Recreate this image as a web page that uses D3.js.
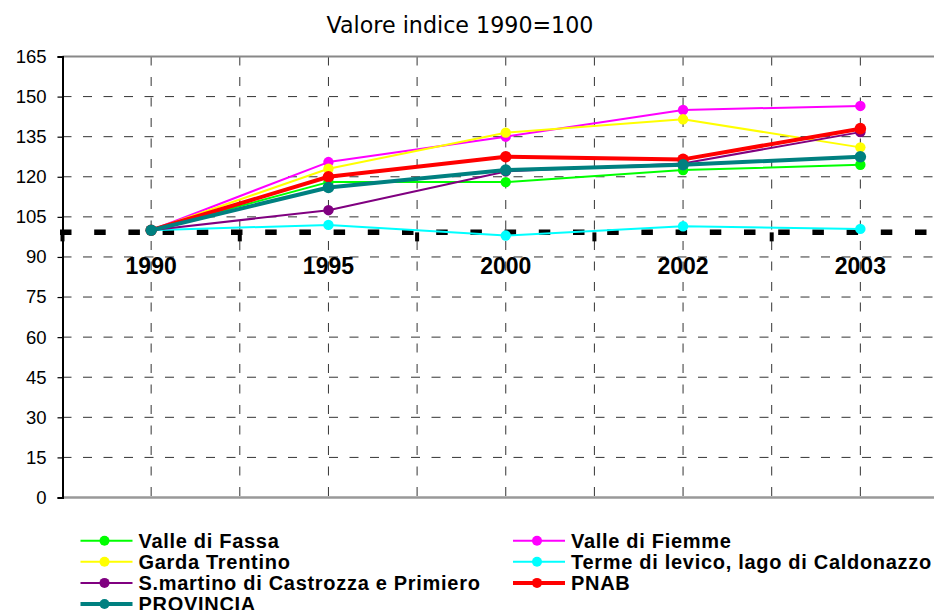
<!DOCTYPE html>
<html>
<head>
<meta charset="utf-8">
<script src="https://cdn.jsdelivr.net/npm/d3@7"></script>
<style>
  body { margin: 0; background: #fff; }
  svg { display: block; }
</style>
</head>
<body>
<script>
// data
let years = ['1990', '1995', '2000', '2002', '2003']
let yTicks = [0, 15, 30, 45, 60, 75, 90, 105, 120, 135, 150, 165]

let valleDiFassa = [100, 118, 118, 122.5, 124.5]
let valleDiFiemme = [100, 125.5, 135, 145, 146.5]
let gardaTrentino = [100, 123, 136.5, 141.5, 131]
let termeDiLevico = [100, 102, 98, 101.5, 100.5]
let sMartino = [100, 107.5, 122, 125, 136.7]
let pnab = [100, 120, 127.5, 126.5, 138]
let provincia = [100, 116, 122.5, 124.5, 127.5]

let seriesNames = ['Valle di Fassa', 'Valle di Fiemme', 'Garda Trentino',
  'Terme di levico, lago di Caldonazzo', 'S.martino di Castrozza e Primiero', 'PNAB', 'PROVINCIA']
let seriesValues = [valleDiFassa, valleDiFiemme, gardaTrentino, termeDiLevico, sMartino, pnab, provincia]
let seriesColors = ['#00ff00', '#ff00ff', '#ffff00', '#00ffff', '#800080', '#ff0000', '#008080']
let thick = [false, false, false, false, false, true, true]

let axisCross = 99.2

let width = 934
let height = 610
let plotLeft = 62.5
let plotRight = 949
let plotTop = 56.5
let plotBottom = 497.5

let svg = d3.select('body').append('svg')
  .attr('width', width)
  .attr('height', height)

let xScale = d3.scaleBand().domain(years).range([plotLeft, plotRight]).padding(0)
let bw = xScale.bandwidth()
let cx = (d) => xScale(d) + bw / 2
let yScale = d3.scaleLinear().domain([0, 165]).range([plotBottom, plotTop])

// title
svg.append('text')
  .attr('x', 460)
  .attr('y', 33)
  .attr('text-anchor', 'middle')
  .style('font-family', '"DejaVu Sans", Verdana, sans-serif')
  .style('font-size', '22.2px')
  .text('Valore indice 1990=100')

// horizontal grid
svg.append('g')
  .selectAll('line')
  .data(yTicks.filter(d => d > 0 && d < 165))
  .enter()
  .append('line')
  .attr('x1', plotLeft)
  .attr('x2', plotRight)
  .attr('y1', d => yScale(d))
  .attr('y2', d => yScale(d))
  .attr('stroke', '#333')
  .attr('stroke-width', 1)
  .attr('stroke-dasharray', '9,11.5')

// vertical grid: band edges and centres
let vx = []
years.forEach((y, i) => {
  if (i > 0) vx.push(xScale(y))
  vx.push(cx(y))
})
svg.append('g')
  .selectAll('line')
  .data(vx)
  .enter()
  .append('line')
  .attr('x1', d => d)
  .attr('x2', d => d)
  .attr('y1', plotTop)
  .attr('y2', plotBottom)
  .attr('stroke', '#333')
  .attr('stroke-width', 1)
  .attr('stroke-dasharray', '9,11.5')

// top border and bottom line
svg.append('line')
  .attr('x1', plotLeft).attr('x2', plotRight)
  .attr('y1', plotTop).attr('y2', plotTop)
  .attr('stroke', '#888').attr('stroke-width', 2)
svg.append('line')
  .attr('x1', plotLeft).attr('x2', plotRight)
  .attr('y1', plotBottom).attr('y2', plotBottom)
  .attr('stroke', '#999').attr('stroke-width', 2.5)

// y axis
let yAxis = d3.axisLeft(yScale).tickValues(yTicks).tickSize(5).tickPadding(11)
let gy = svg.append('g')
  .attr('transform', 'translate(' + plotLeft + ',0)')
  .call(yAxis)
gy.select('.domain').attr('stroke', '#000').attr('stroke-width', 2)
gy.selectAll('.tick line').attr('stroke', '#000').attr('stroke-width', 1.2)
gy.selectAll('text')
  .style('font-family', '"Liberation Sans", Arial, sans-serif')
  .style('font-size', '18.5px')
  .attr('fill', '#000')

// category axis (crosses near 100, thick dashed)
let yc = yScale(axisCross)
svg.append('line')
  .attr('x1', 60)
  .attr('x2', plotRight)
  .attr('y1', yc)
  .attr('y2', yc)
  .attr('stroke', '#000')
  .attr('stroke-width', 5.5)
  .attr('stroke-dasharray', '11.5,22.7')

svg.append('g')
  .selectAll('line')
  .data(years.concat(['end']))
  .enter()
  .append('line')
  .attr('x1', (d, i) => plotLeft + i * bw)
  .attr('x2', (d, i) => plotLeft + i * bw)
  .attr('y1', yc)
  .attr('y2', yc + 9)
  .attr('stroke', '#000')
  .attr('stroke-width', 4)

let xAxis = d3.axisBottom(xScale).tickSize(0).tickPadding(25)
let gx = svg.append('g')
  .attr('transform', 'translate(0,' + yc + ')')
  .call(xAxis)
gx.select('.domain').remove()
gx.selectAll('text')
  .style('font-family', '"Liberation Sans", Arial, sans-serif')
  .style('font-size', '23px')
  .style('font-weight', 'bold')
  .attr('fill', '#000')

// series
let line = d3.line()
  .x((d, i) => cx(years[i]))
  .y(d => yScale(d))

seriesValues.forEach((vals, s) => {
  let g = svg.append('g')
  g.append('path')
    .datum(vals)
    .attr('d', line)
    .attr('fill', 'none')
    .attr('stroke', seriesColors[s])
    .attr('stroke-width', thick[s] ? 4 : 2)
    .attr('stroke-linejoin', 'round')
  g.selectAll('circle')
    .data(vals)
    .enter()
    .append('circle')
    .attr('cx', (d, i) => cx(years[i]))
    .attr('cy', d => yScale(d))
    .attr('r', thick[s] ? 5.8 : 5.2)
    .attr('fill', seriesColors[s])
})

// legend, row-wise in two columns
let legendCols = [80.5, 513]
let legend = svg.append('g')
let items = legend.selectAll('g')
  .data(seriesNames)
  .enter()
  .append('g')
  .attr('transform', (d, i) => 'translate(' + legendCols[i % 2] + ',' + (540.7 + Math.floor(i / 2) * 21.1) + ')')

items.append('line')
  .attr('x1', 0).attr('x2', 52)
  .attr('y1', 0).attr('y2', 0)
  .attr('stroke', (d, i) => seriesColors[i])
  .attr('stroke-width', (d, i) => thick[i] ? 4 : 2)
items.append('circle')
  .attr('cx', 24).attr('cy', 0)
  .attr('r', 5)
  .attr('fill', (d, i) => seriesColors[i])
items.append('text')
  .attr('x', 58)
  .attr('dy', '0.36em')
  .style('font-family', '"Liberation Sans", Arial, sans-serif')
  .style('font-size', '20px')
  .style('font-weight', 'bold')
  .style('letter-spacing', '0.7px')
  .text(d => d)
</script>
</body>
</html>
